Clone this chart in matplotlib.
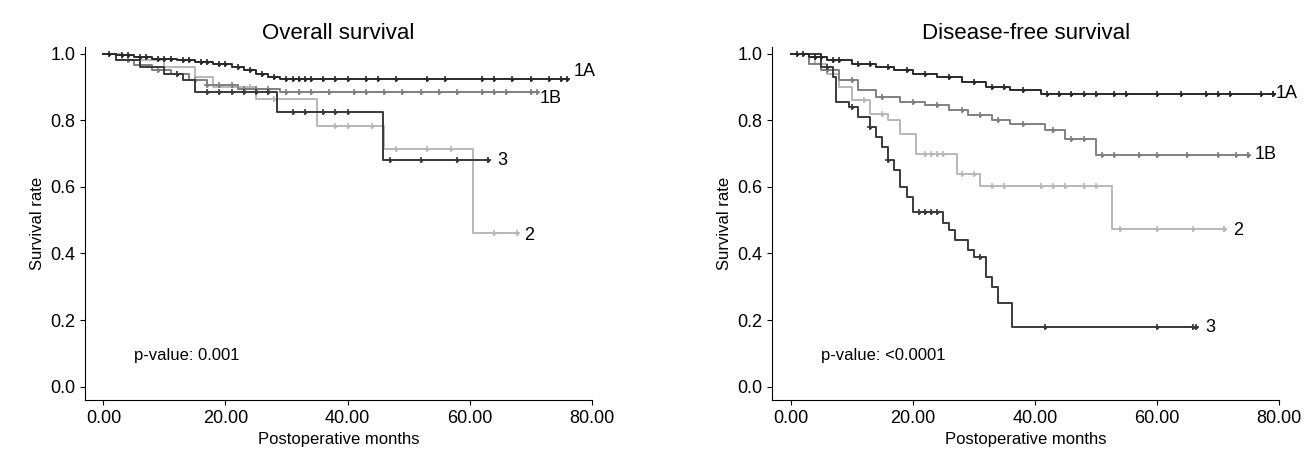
import matplotlib
matplotlib.use("Agg")
import matplotlib.pyplot as plt
import numpy as np

plt.rcParams["font.family"] = ["Liberation Sans", "DejaVu Sans"]

# (event months, survival after event, censor months, last follow-up)
OS = {
    "1A": ([2, 5, 8, 12, 15, 18, 21, 23, 25, 27, 29],
           [0.995, 0.99, 0.985, 0.98, 0.975, 0.97, 0.96, 0.95, 0.94, 0.93, 0.925],
           [1, 3, 4, 6, 7, 9, 10, 11, 13, 14, 16, 17, 19, 20, 22, 24, 26, 28, 30, 31, 32, 33, 34, 36, 38, 40, 43, 45, 48, 53, 56, 62, 64, 67, 70, 73, 75], 76),
    "1B": ([2, 5, 8, 11, 14, 17, 22, 29],
           [0.98, 0.965, 0.95, 0.94, 0.92, 0.905, 0.895, 0.885],
           [4, 9, 12, 15, 17, 19, 21, 23, 25, 27, 30, 32, 34, 37, 41, 43, 46, 49, 52, 55, 58, 62, 64, 66, 70], 71),
    "2": ([3, 10, 15, 18, 25, 35, 46, 60.5],
          [0.98, 0.96, 0.93, 0.9, 0.865, 0.783, 0.714, 0.46],
          [22, 24, 28, 38, 40, 44, 48, 53, 57, 64], 67.7),
    "3": ([2, 6, 10, 13, 15, 28.5, 45.8],
          [0.98, 0.96, 0.94, 0.92, 0.886, 0.826, 0.68],
          [12, 17, 19, 21, 23, 25, 27, 31, 33, 36, 38, 40, 47, 52, 58, 63], 63),
}
DFS = {
    "1A": ([3, 6, 10, 14, 17, 20, 24, 28, 32, 36, 41],
           [0.99, 0.98, 0.97, 0.96, 0.95, 0.94, 0.93, 0.915, 0.9, 0.89, 0.88],
           [1, 2, 4, 5, 7, 8, 11, 13, 16, 19, 22, 26, 30, 33, 35, 38, 42, 44, 46, 48, 50, 53, 55, 60, 64, 68, 70, 72, 77, 79], 79),
    "1B": ([3, 5, 8, 11, 14, 18, 22, 26, 29, 33, 36, 41.6, 45, 50],
           [0.97, 0.95, 0.92, 0.89, 0.87, 0.855, 0.845, 0.83, 0.815, 0.8, 0.79, 0.77, 0.744, 0.696],
           [6, 10, 15, 20, 24, 28, 31, 34, 38, 43, 46, 48, 51, 53, 57, 60, 65, 70, 73, 75], 75),
    "2": ([4, 6, 8, 10, 13, 16, 18, 20.6, 27.2, 31, 52.6],
          [0.97, 0.94, 0.9, 0.86, 0.82, 0.8, 0.76, 0.7, 0.64, 0.602, 0.473],
          [12, 15, 22, 23, 24, 25, 28, 30, 33, 35, 41, 43, 45, 48, 50, 54, 60, 66, 71], 71),
    "3": ([5, 7, 7.5, 9.5, 11, 13, 14, 15, 16, 17, 18, 19, 20, 25, 26, 27, 29, 30, 32, 33, 34, 36.2],
          [0.96, 0.93, 0.855, 0.84, 0.81, 0.78, 0.75, 0.72, 0.68, 0.65, 0.6, 0.57, 0.525, 0.49, 0.47, 0.44, 0.41, 0.39, 0.33, 0.3, 0.25, 0.18],
          [6, 10, 13, 16, 21, 22, 23, 24, 31, 41.6, 60, 66], 66.5),
}
COLORS = {"1A": "#2a2a2a", "1B": "#808080", "2": "#b8b8b8", "3": "#3a3a3a"}
PVALS = ["p-value: 0.001", "p-value: <0.0001"]
TITLES = ["Overall survival", "Disease-free survival"]
LABEL_POS = {
    0: {"1A": (77, 0.945), "1B": (71.5, 0.865), "2": (69, 0.455), "3": (64.5, 0.68)},
    1: {"1A": (79.5, 0.88), "1B": (76, 0.697), "2": (72.5, 0.47), "3": (68, 0.177)},
}


def draw(ax, data, idx):
    for key in ["2", "1B", "3", "1A"]:
        t, s, cens, end = data[key]
        x = np.r_[0, t, end]
        y = np.r_[1.0, s, s[-1]]
        ax.step(x, y, where="post", color=COLORS[key], lw=1.4)
        cens = np.r_[cens, end]
        cy = [y[np.searchsorted(x, c, side="right") - 1] for c in cens]
        ax.plot(cens, cy, "+", color=COLORS[key], ms=5, mew=1.2)
        ax.plot(cens, cy, ".", color=COLORS[key], ms=3)
        lx, ly = LABEL_POS[idx][key]
        ax.text(lx, ly, key, fontsize=13, va="center", ha="left")
    ax.set_xlim(-3, 80)
    ax.set_ylim(-0.04, 1.02)
    ax.set_xticks([0, 20, 40, 60, 80])
    ax.set_xticklabels([f"{v:.2f}" for v in [0, 20, 40, 60, 80]], fontsize=13)
    ax.set_yticks(np.arange(0, 1.01, 0.2))
    ax.set_yticklabels([f"{v:.1f}" for v in np.arange(0, 1.01, 0.2)], fontsize=13)
    for sp in ["top", "right"]:
        ax.spines[sp].set_visible(False)
    ax.set_xlabel("Postoperative months", fontsize=12)
    ax.set_ylabel("Survival rate", fontsize=12)
    ax.set_title(TITLES[idx], fontsize=16)
    ax.text(5, 0.08, PVALS[idx], fontsize=12)


fig = plt.figure(figsize=(13.09, 4.74), dpi=100)
ax1 = fig.add_axes([0.065, 0.156, 0.387, 0.745])
ax2 = fig.add_axes([0.59, 0.156, 0.387, 0.745])
draw(ax1, OS, 0)
draw(ax2, DFS, 1)
fig.savefig("out.png", dpi=100)
